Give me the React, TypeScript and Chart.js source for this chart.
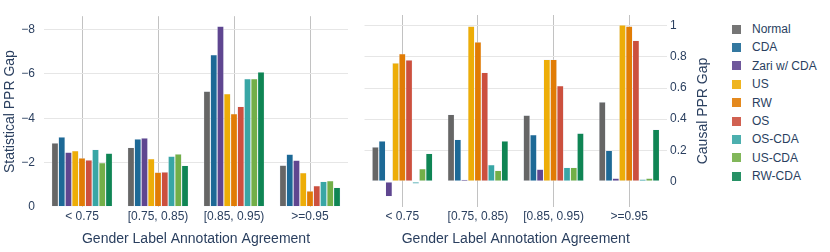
import React, { useEffect, useRef } from "react";
import { Chart, registerables } from "chart.js";
Chart.register(...registerables);

const categories = ["< 0.75", "[0.75, 0.85)", "[0.85, 0.95)", ">=0.95"];
const seriesNames = ["Normal", "CDA", "Zari w/ CDA", "US", "RW", "OS", "OS-CDA", "US-CDA", "RW-CDA"];
const seriesColors = [
  "rgb(102,102,102)",
  "rgb(29,105,150)",
  "rgb(95,70,144)",
  "rgb(237,173,8)",
  "rgb(225,124,5)",
  "rgb(204,80,62)",
  "rgb(56,166,165)",
  "rgb(115,175,72)",
  "rgb(15,133,84)",
];

// Statistical PPR Gap (left panel)
const statNormal = [-2.88, -2.68, -5.22, -1.88];
const statCDA = [-3.15, -3.06, -6.86, -2.38];
const statZari = [-2.47, -3.11, -8.15, -2.11];
const statUS = [-2.54, -2.17, -5.1, -1.54];
const statRW = [-2.21, -1.57, -4.2, -0.72];
const statOS = [-2.12, -1.58, -4.53, -0.96];
const statOSCDA = [-2.59, -2.29, -5.78, -1.15];
const statUSCDA = [-2.0, -2.39, -5.78, -1.18];
const statRWCDA = [-2.42, -1.87, -6.08, -0.88];

// Causal PPR Gap (right panel)
const causNormal = [0.222, 0.43, 0.425, 0.51];
const causCDA = [0.26, 0.27, 0.3, 0.199];
const causZari = [-0.096, 0.013, 0.079, 0.021];
const causUS = [0.76, 0.996, 0.784, 1.004];
const causRW = [0.82, 0.895, 0.784, 0.996];
const causOS = [0.78, 0.7, 0.615, 0.906];
const causOSCDA = [-0.015, 0.107, 0.09, 0.015];
const causUSCDA = [0.081, 0.07, 0.09, 0.021];
const causRWCDA = [0.18, 0.26, 0.31, 0.333];

const statTicks = [0, -2, -4, -6, -8];
const causalTicks = [0, 0.2, 0.4, 0.6, 0.8, 1];

const statSeries = [statNormal, statCDA, statZari, statUS, statRW, statOS, statOSCDA, statUSCDA, statRWCDA];
const causSeries = [causNormal, causCDA, causZari, causUS, causRW, causOS, causOSCDA, causUSCDA, causRWCDA];

const FONT = "'Liberation Sans', Arial, sans-serif";
const TEXT = "#2a3f5f";
const XTITLE = "Gender Label Annotation Agreement";

function makeDatasets(series: number[][]) {
  return series.map((d, i) => ({
    label: seriesNames[i],
    data: d,
    backgroundColor: seriesColors[i],
    borderColor: "rgba(229,236,246,1)",
    borderWidth: 0.5,
    borderSkipped: false as const,
    categoryPercentage: 0.8,
    barPercentage: 1,
  }));
}

function xScale() {
  return {
    type: "category" as const,
    offset: true,
    grid: { display: true, offset: false, color: "#c2c2c2", drawTicks: false, lineWidth: 1 },
    border: { display: false },
    ticks: { color: TEXT, font: { family: FONT, size: 12 }, padding: 2, maxRotation: 0, autoSkip: false },
    title: {
      display: true,
      text: XTITLE,
      color: TEXT,
      font: { family: FONT, size: 14 },
      padding: { top: 4, bottom: 4.6 },
    },
    afterFit: (s: any) => {
      s.height = 45;
    },
  };
}

const gridColor = (ctx: any) => (ctx.tick && Math.abs(ctx.tick.value) < 1e-9 ? "rgba(0,0,0,0)" : "#e6e6e6");

function StatChart() {
  const ref = useRef<HTMLCanvasElement>(null);
  useEffect(() => {
    const chart = new Chart(ref.current!, {
      type: "bar",
      data: { labels: categories, datasets: makeDatasets(statSeries) },
      options: {
        animation: false,
        responsive: false,
        layout: { padding: { top: 15, right: 2, left: 0, bottom: 0 } },
        plugins: { legend: { display: false }, tooltip: { enabled: false } },
        scales: {
          x: xScale(),
          y: {
            type: "linear",
            reverse: true,
            min: -8.6,
            max: 0,
            afterBuildTicks: (s: any) => {
              s.ticks = statTicks.map((v) => ({ value: v }));
            },
            grid: { color: gridColor, drawTicks: false, lineWidth: 1 },
            border: { display: false },
            ticks: {
              color: TEXT,
              font: { family: FONT, size: 12 },
              padding: 9,
              callback: (v: any) => (Number(v) < 0 ? "\u2212" + Math.abs(Number(v)) : String(v)),
            },
            title: {
              display: true,
              text: "Statistical PPR Gap",
              color: TEXT,
              font: { family: FONT, size: 14 },
              padding: { top: 2, bottom: 0 },
            },
            afterFit: (s: any) => {
              s.width = 44;
            },
          },
        },
      },
    });
    return () => chart.destroy();
  }, []);
  return (
    <canvas
      ref={ref}
      width={350}
      height={252}
      style={{ position: "absolute", left: 0, top: 0, width: 350, height: 252 }}
    />
  );
}

const rightTitlePlugin = {
  id: "rightTitle",
  afterDraw(chart: any) {
    const { ctx, chartArea } = chart;
    ctx.save();
    ctx.fillStyle = TEXT;
    ctx.font = `14px ${FONT}`;
    ctx.textAlign = "center";
    ctx.textBaseline = "middle";
    ctx.translate(353, (chartArea.top + chartArea.bottom) / 2);
    ctx.rotate(-Math.PI / 2);
    ctx.fillText("Causal PPR Gap", 0, 0);
    ctx.restore();
  },
};

function CausalChart() {
  const ref = useRef<HTMLCanvasElement>(null);
  useEffect(() => {
    const chart = new Chart(ref.current!, {
      type: "bar",
      data: { labels: categories, datasets: makeDatasets(causSeries) },
      options: {
        animation: false,
        responsive: false,
        layout: { padding: { top: 15, right: 0, left: 14.5, bottom: 0 } },
        plugins: { legend: { display: false }, tooltip: { enabled: false } },
        scales: {
          x: xScale(),
          y: {
            type: "linear",
            position: "right",
            min: -0.164,
            max: 1.069,
            afterBuildTicks: (s: any) => {
              s.ticks = causalTicks.map((v) => ({ value: v }));
            },
            grid: { color: gridColor, drawTicks: false, lineWidth: 1 },
            border: { display: false },
            ticks: {
              color: TEXT,
              font: { family: FONT, size: 12 },
              padding: 3,
              callback: (v: any) => String(Number(Number(v).toFixed(1))),
            },
            afterFit: (s: any) => {
              s.width = 63;
            },
          },
        },
      },
      plugins: [rightTitlePlugin],
    });
    return () => chart.destroy();
  }, []);
  return (
    <canvas
      ref={ref}
      width={380}
      height={252}
      style={{ position: "absolute", left: 350, top: 0, width: 380, height: 252 }}
    />
  );
}

function Legend() {
  return (
    <div style={{ position: "absolute", left: 732, top: 20, fontFamily: FONT, fontSize: 12, color: TEXT }}>
      {seriesNames.map((n, i) => (
        <div key={n} style={{ position: "absolute", left: 0, top: i * 18.4, height: 18, width: 95, display: "flex", alignItems: "center" }}>
          <span style={{ display: "inline-block", width: 9, height: 9, background: seriesColors[i], marginRight: 11, opacity: 0.9 }} />
          <span style={{ whiteSpace: "nowrap" }}>{n}</span>
        </div>
      ))}
    </div>
  );
}

export default function App() {
  return (
    <div style={{ position: "absolute", left: 0, top: 0, width: 830, height: 252, background: "#fff", overflow: "hidden" }}>
      <StatChart />
      <CausalChart />
      <Legend />
    </div>
  );
}
